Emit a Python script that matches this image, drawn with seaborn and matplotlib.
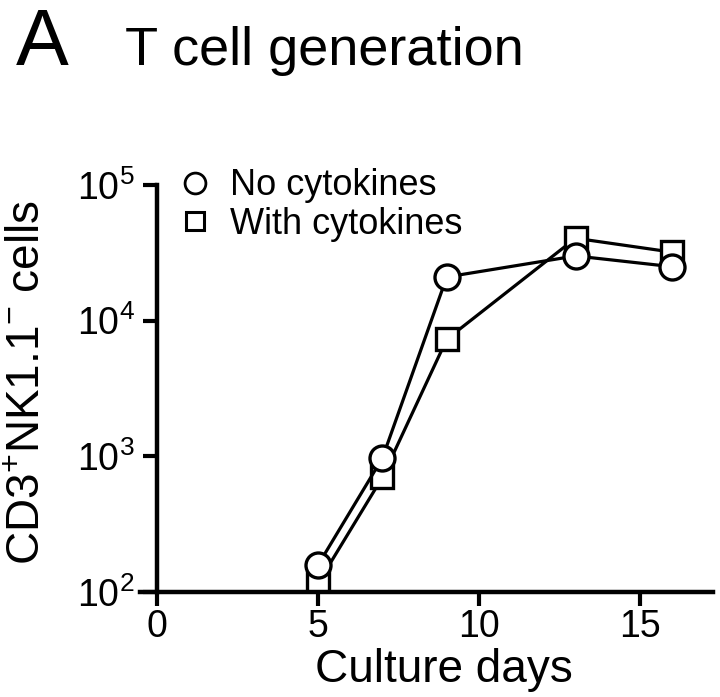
import matplotlib
matplotlib.use("Agg")
import matplotlib.pyplot as plt
from matplotlib.lines import Line2D
import seaborn as sns
import pandas as pd

days = [5, 7, 9, 13, 16]
no_cytokines = [158, 970, 21000, 30000, 25000]
with_cytokines = [116, 700, 7300, 40500, 32000]
x_ticks = [0, 5, 10, 15]
y_ticks = [1e2, 1e3, 1e4, 1e5]
y_tick_labels = [r"$\mathregular{10^{2}}$", r"$\mathregular{10^{3}}$",
                 r"$\mathregular{10^{4}}$", r"$\mathregular{10^{5}}$"]

sns.set_style("ticks")
plt.rcParams["font.family"] = ["Liberation Sans", "DejaVu Sans"]
plt.rcParams["mathtext.fontset"] = "custom"
plt.rcParams["mathtext.rm"] = "Liberation Sans"
plt.rcParams["mathtext.it"] = "Liberation Sans"
for k in ("text.color", "axes.labelcolor", "xtick.color", "ytick.color",
          "axes.edgecolor"):
    plt.rcParams[k] = "black"

df = pd.DataFrame({
    "day": days * 2,
    "cells": with_cytokines + no_cytokines,
    "cond": ["With cytokines"] * len(days) + ["No cytokines"] * len(days),
})

fig = plt.figure(figsize=(7.2, 6.97), dpi=100)
ax = fig.add_axes([140 / 720, 1 - 592 / 697, 573 / 720, 407 / 697])

common = dict(color="black", linewidth=2.3, markerfacecolor="white",
              markeredgecolor="black", markeredgewidth=2.4, legend=False)
sns.lineplot(data=df[df.cond == "With cytokines"], x="day", y="cells",
             marker="s", markersize=15.5, ax=ax, **common)
sns.lineplot(data=df[df.cond == "No cytokines"], x="day", y="cells",
             marker="o", markersize=18, ax=ax, **common)

ax.set_yscale("log")
ax.set_ylim(100, 1e5)
ax.set_xlim(-0.53, 17.27)
ax.spines["left"].set_position(("data", 0))
ax.spines["right"].set_visible(False)
ax.spines["top"].set_visible(False)
for s in ("left", "bottom"):
    ax.spines[s].set_linewidth(3.2)
    ax.spines[s].set_color("black")
ax.set_xticks(x_ticks)
ax.set_xticklabels([str(t) for t in x_ticks], fontsize=27)
ax.set_yticks(y_ticks)
ax.set_yticklabels(y_tick_labels, fontsize=27)
ax.yaxis.set_minor_locator(matplotlib.ticker.NullLocator())
ax.tick_params(axis="both", which="major", direction="out", length=10,
               width=3, color="black", pad=6)
ax.tick_params(axis="x", pad=2)
ax.set_xlabel("Culture days", fontsize=33)
ax.xaxis.set_label_coords((444 - 140) / 573, -0.137)
ax.set_ylabel(r"CD3$^{+}$NK1.1$^{-}$ cells", fontsize=33)
ax.yaxis.set_label_coords((50 - 140) / 573, 0.515)

handles = [
    Line2D([], [], linestyle="none", marker="o", markersize=15,
           markerfacecolor="white", markeredgecolor="black", markeredgewidth=2),
    Line2D([], [], linestyle="none", marker="s", markersize=13,
           markerfacecolor="white", markeredgecolor="black", markeredgewidth=2.2),
]
fig.legend(handles, ["No cytokines", "With cytokines"], loc="center left",
           bbox_to_anchor=(181 / 720, 1 - 205 / 697), frameon=False,
           fontsize=26, handlelength=0.8, handletextpad=0.57,
           labelspacing=0.1, borderaxespad=0, borderpad=0)

fig.text(16 / 720, 1 - 65 / 697, "A", fontsize=57, ha="left", va="baseline")
fig.text(125 / 720, 1 - 65 / 697, "T cell generation", fontsize=39,
         ha="left", va="baseline")

fig.savefig("out.png", dpi=100)
